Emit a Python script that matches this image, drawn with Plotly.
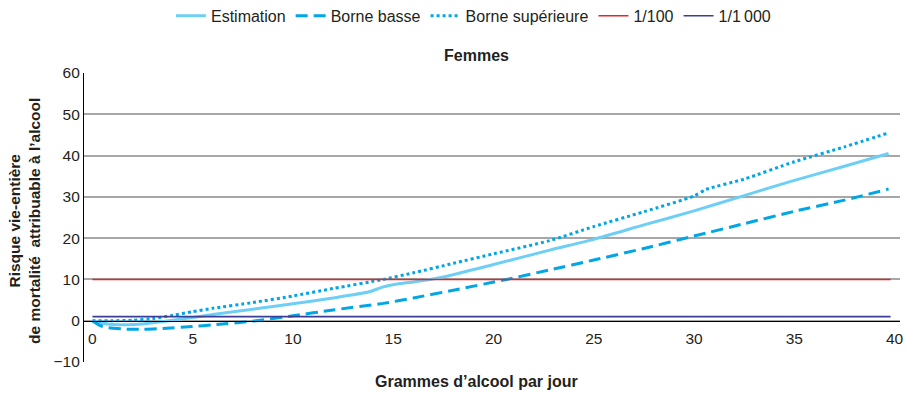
import plotly.graph_objects as go

# Grams of alcohol per day and lifetime attributable mortality risk (per 1000), women
est_x = [0, 0.5, 1, 1.7, 2.5, 3.2, 4, 5, 6, 8, 10, 12, 13.8, 14.5, 15.2, 16, 17.5, 20, 22.8, 25, 27.5, 30, 32.5, 35, 37.5, 39.7]
est_y = [0, -0.6, -0.9, -1.0, -0.8, -0.4, 0.1, 0.8, 1.5, 2.8, 4.1, 5.5, 7.0, 8.2, 8.9, 9.4, 10.6, 13.6, 17.1, 19.7, 23.2, 26.6, 30.3, 34.0, 37.4, 40.5]

low_x = [0, 0.4, 0.8, 1.5, 2.5, 3.5, 5, 6, 8, 10, 12, 14.5, 16, 18, 20.65, 22.8, 25, 27.5, 30, 32.5, 35, 37.5, 39.7]
low_y = [0, -1.2, -1.7, -2.0, -2.1, -1.9, -1.4, -1.0, -0.1, 1.2, 2.6, 4.2, 5.5, 7.4, 10.0, 12.3, 14.7, 17.5, 20.5, 23.5, 26.5, 29.2, 31.9]

high_x = [0, 1, 2, 3, 4, 5, 6, 8, 10, 12, 14.5, 16, 18, 20, 22.8, 25, 27.5, 30, 30.6, 32.5, 35, 37.5, 39.7]
high_y = [0, 0, 0.1, 0.5, 1.3, 2.2, 3.0, 4.4, 6.0, 7.8, 10.0, 11.6, 13.9, 16.2, 19.4, 22.8, 26.4, 30.2, 31.8, 34.3, 38.5, 42.1, 45.5]

# Reference thresholds: 1/100 and 1/1000 expressed per 1000
ref_x = [0, 39.8]
seuil_100 = 10
seuil_1000 = 1

x_ticks = [0, 5, 10, 15, 20, 25, 30, 35, 40]
y_ticks = [-10, 0, 10, 20, 30, 40, 50, 60]

FONT = "Liberation Sans, Arial, Helvetica, sans-serif"
TXT = "#231F20"

fig = go.Figure()
fig.add_trace(go.Scatter(x=est_x, y=est_y, mode="lines", name="Estimation",
                         line=dict(color="#6DCFF6", width=3, shape="spline", smoothing=0.6)))
fig.add_trace(go.Scatter(x=low_x, y=low_y, mode="lines", name="Borne basse",
                         line=dict(color="#00A6E6", width=3, dash="12px,6px", shape="spline", smoothing=0.6)))
fig.add_trace(go.Scatter(x=high_x, y=high_y, mode="lines", name="Borne supérieure",
                         line=dict(color="#00A6E6", width=3, dash="3px,3px", shape="spline", smoothing=0.6)))
fig.add_trace(go.Scatter(x=ref_x, y=[seuil_100] * 2, mode="lines", name="1/100",
                         line=dict(color="#E5242B", width=1.6)))
fig.add_trace(go.Scatter(x=ref_x, y=[seuil_1000] * 2, mode="lines", name="1/1\u2009000",
                         line=dict(color="#3B3D96", width=1.6)))

fig.update_layout(
    width=907, height=395,
    margin=dict(l=84, r=7, t=73, b=33, autoexpand=False),
    paper_bgcolor="white", plot_bgcolor="white",
    font=dict(family=FONT, size=15, color=TXT),
    showlegend=True,
    legend=dict(orientation="h", x=0.522, xanchor="center", xref="container",
                y=0.96, yanchor="middle", yref="container",
                font=dict(size=16, color=TXT), itemwidth=30, traceorder="normal"),
    xaxis=dict(range=[-0.42, 40.27], tickvals=x_ticks, showgrid=False, zeroline=False,
               anchor="free", position=1 / 7, showline=True, linecolor="black", linewidth=1.2,
               ticks="", ticklabelstandoff=4, tickfont=dict(size=15.5, color=TXT)),
    yaxis=dict(range=[-10, 60], tickvals=y_ticks, showgrid=True, gridcolor="#A7A7A7", gridwidth=1.5,
               zeroline=False, showline=True, linecolor="black", linewidth=1.2,
               ticks="", tickfont=dict(size=15.5, color=TXT)),
    annotations=[
        dict(text="<b>Femmes</b>", x=0.4816, y=1.062, xref="paper", yref="paper",
             xanchor="center", yanchor="middle", showarrow=False, font=dict(size=16, color=TXT)),
        dict(text="<b>Grammes d\u2019alcool par jour</b>", x=0.481, y=-0.069, xref="paper", yref="paper",
             xanchor="center", yanchor="middle", showarrow=False, font=dict(size=16, color=TXT)),
        dict(text="<b>Risque vie-entière<br>de mortalité  attribuable à l\u2019alcool</b>",
             x=-0.0723, y=0.488, xref="paper", yref="paper", textangle=-90,
             xanchor="center", yanchor="middle", showarrow=False, font=dict(size=15.5, color=TXT)),
    ],
)

fig.write_html("out.html")
